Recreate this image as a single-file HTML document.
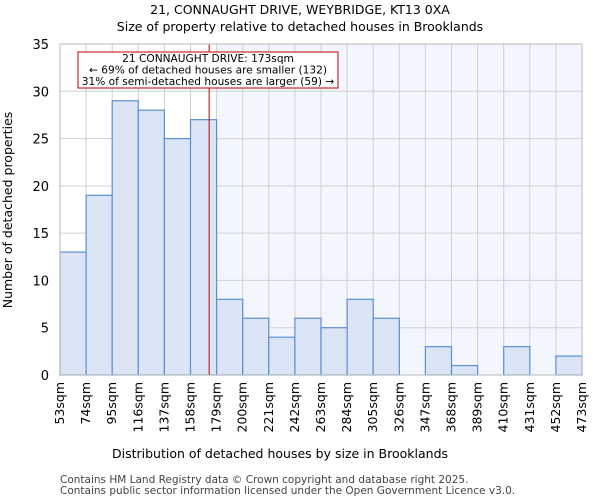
<!DOCTYPE html>
<html><head><meta charset="utf-8"><style>body{margin:0;background:#fff}svg{display:block;font-family:"DejaVu Sans","Liberation Sans",sans-serif}</style></head>
<body>
<svg id="c" width="600" height="500">
<text x="300" y="14" text-anchor="middle" font-size="12.5">21, CONNAUGHT DRIVE, WEYBRIDGE, KT13 0XA</text>
<text x="300" y="31" text-anchor="middle" font-size="12.5">Size of property relative to detached houses in Brooklands</text>
<g id="plot"></g>
<text x="280" y="458" text-anchor="middle" font-size="12.5">Distribution of detached houses by size in Brooklands</text>
<text transform="translate(12,210) rotate(-90)" text-anchor="middle" font-size="12.5">Number of detached properties</text>
<text x="60" y="483" font-size="10.5" fill="#444">Contains HM Land Registry data © Crown copyright and database right 2025.</text>
<text x="60" y="494" font-size="10.5" fill="#444">Contains public sector information licensed under the Open Government Licence v3.0.</text>
</svg>
<script>
const categories=["53sqm","74sqm","95sqm","116sqm","137sqm","158sqm","179sqm","200sqm","221sqm","242sqm","263sqm","284sqm","305sqm","326sqm","347sqm","368sqm","389sqm","410sqm","431sqm","452sqm","473sqm"];
const counts=[13,19,29,28,25,27,8,6,4,6,5,8,6,0,3,1,0,3,0,2];
const yTicks=[0,5,10,15,20,25,30,35];
const binStart=53, binWidth=21, propertySize=173;
const X0=60,X1=582,Y0=375,Y1=44,NS="http://www.w3.org/2000/svg";
const nb=counts.length;
const x=v=>X0+(v-binStart)/(binWidth*nb)*(X1-X0);
const y=v=>Y0-v/35*(Y0-Y1);
const g=document.getElementById('plot');
function mk(t,a,p){const e=document.createElementNS(NS,t);for(const k in a)e.setAttribute(k,a[k]);(p||g).appendChild(e);return e;}
const binIdx=Math.floor((propertySize-binStart)/binWidth);
const shadeX=x(binStart+(binIdx+1)*binWidth);
const bg=mk('rect',{x:shadeX,y:Y1,width:X1-shadeX,height:Y0-Y1,fill:'#f3f6fd'});


for(let i=0;i<=nb;i++){const gl=mk('line',{x1:x(binStart+i*binWidth),x2:x(binStart+i*binWidth),y1:Y1,y2:Y0,stroke:'#d0d0d0'});

}
yTicks.forEach(t=>{const gl=mk('line',{x1:X0,x2:X1,y1:y(t),y2:y(t),stroke:'#d0d0d0'});


const tl=mk('text',{x:X0-11,y:y(t)+5,'text-anchor':'end','font-size':'13'});tl.textContent=t;

});
counts.forEach((c,i)=>{if(c<=0)return;const b=mk('rect',{x:x(binStart+i*binWidth),y:y(c),width:x(binStart+binWidth)-X0,height:Y0-y(c),fill:'#dbe5f5',stroke:'#5b8fd6','stroke-width':1.2});

});
categories.forEach((c,i)=>{const xx=x(binStart+i*binWidth)+4;const tl=mk('text',{transform:`translate(${xx},382) rotate(-90)`,'text-anchor':'end','font-size':'12.5'});tl.textContent=c;

});
const pl=mk('line',{x1:x(propertySize),x2:x(propertySize),y1:Y1,y2:Y0,stroke:'#c00000','stroke-width':1});


const box=mk('rect',{x:78,y:52,width:260,height:36,fill:'#fff',stroke:'#c00000'});


["21 CONNAUGHT DRIVE: 173sqm","← 69% of detached houses are smaller (132)","31% of semi-detached houses are larger (59) →"].forEach((s,i)=>{const t=mk('text',{x:208,y:62+i*11.5,'text-anchor':'middle','font-size':'10.6'});t.textContent=s;

});
const ax=mk('rect',{x:X0,y:Y1,width:X1-X0,height:Y0-Y1,fill:'none',stroke:'#bbb'});


</script>
</body></html>
